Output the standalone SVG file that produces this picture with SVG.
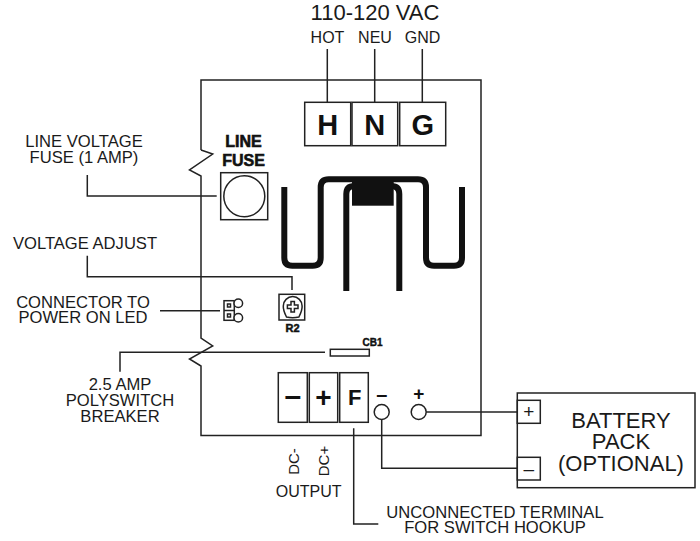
<svg xmlns="http://www.w3.org/2000/svg" width="700" height="541" viewBox="0 0 700 541">
<style>
text{font-family:"Liberation Sans",Arial,sans-serif;fill:#1a1a1a;text-anchor:middle}
.l{font-size:16.6px}
.h{font-size:16px}
.bt{font-size:22px}
.b{font-weight:bold;fill:#111}
.s{fill:#fff;stroke:#222;stroke-width:1.5}
.n{fill:none;stroke:#222;stroke-width:1.5}
.w{fill:none;stroke:#222;stroke-width:1.5}
.t{fill:none;stroke:#111;stroke-width:6}
</style>
<rect width="700" height="541" fill="#fff"/>
<g id="board"><path class="n" d="M201 150V80H481V435.5H201V366L189.5 359L212.7 346L201 338V176L189.5 170L212.7 154L201 150"/></g>
<g id="connectors">
<path class="w" d="M327.3 49V102M374.7 49V102M422.3 49V102"/>
<path class="w" d="M87.3 175V196H216.7"/>
<path class="w" d="M87.3 255.7V276.7H292V290"/>
<path class="w" d="M160 310.7H220"/>
<path class="w" d="M120 371.7V352.3H325"/>
<path class="w" d="M426.2 412H517.3"/>
<path class="w" d="M381.7 419.5V468.3H517.3"/>
<path class="w" d="M353.7 428.3V524H378.3"/>
</g>
<g id="ac-title"><text x="375" y="20" font-size="22px">110-120 VAC</text>
<text class="h" x="327.5" y="43">HOT</text><text class="h" x="375" y="43">NEU</text><text class="h" x="422.5" y="43">GND</text></g>
<g id="terminal-h"><rect class="s" x="304.7" y="102.3" width="46" height="43.4"/><text class="b" x="327.7" y="134.5" font-size="29px">H</text></g>
<g id="terminal-n"><rect class="s" x="352" y="102.3" width="45.7" height="43.4"/><text class="b" x="374.8" y="134.5" font-size="29px">N</text></g>
<g id="terminal-g"><rect class="s" x="399.7" y="102.3" width="46" height="43.4"/><text class="b" x="422.7" y="134.5" font-size="29px">G</text></g>
<g id="line-fuse">
<text class="b" x="243.5" y="147" font-size="16px" stroke="#111" stroke-width=".6">LINE</text>
<text class="b" x="243.5" y="166" font-size="16px" stroke="#111" stroke-width=".6">FUSE</text>
<rect class="s" x="220.7" y="172.7" width="47" height="47"/><circle class="n" cx="244.3" cy="196.2" r="20.5"/></g>
<g id="transformer">
<path class="t" d="M284.3 187V257.7Q284.3 265.7 292.3 265.7H312.7Q320.7 265.7 320.7 257.7V187.3Q320.7 179.3 328.7 179.3H418Q426 179.3 426 187.3V257.7Q426 265.7 434 265.7H454Q462 265.7 462 257.7V187"/>
<path class="t" d="M346.3 291V194Q346.3 186 354.3 186H391.3Q399.3 186 399.3 194V291"/>
<rect x="352" y="182" width="41.7" height="23.7" fill="#111"/></g>
<g id="trimmer-r2"><rect class="s" x="279" y="294.3" width="25.7" height="25.7"/>
<path class="n" d="M286.5 317Q283 310 283.3 306A9.4 9.4 0 0 1 302.1 306Q302.4 310 298.9 317Q292.7 318.6 286.5 317Z"/>
<path class="n" stroke-width="1.2" d="M291 301.5H294.4V305H298V308.4H294.4V312H291V308.4H287.4V305H291Z"/>
<text class="b" x="292.5" y="331.7" font-size="11px" stroke="#111" stroke-width=".5">R2</text></g>
<g id="led-connector"><rect class="s" x="224" y="300.7" width="10.3" height="19.6"/><path class="n" d="M224 310.5H234.3"/>
<rect class="n" x="227.5" y="304" width="3" height="3" stroke-width="1.2"/><rect class="n" x="227.5" y="314" width="3" height="3" stroke-width="1.2"/>
<circle class="s" cx="238.3" cy="303.3" r="4.3"/><circle class="s" cx="238.3" cy="317.7" r="4.3"/></g>
<g id="breaker-cb1"><rect class="s" x="330.3" y="349.3" width="39" height="6.7"/><text class="b" x="372.5" y="345.7" font-size="10px" stroke="#111" stroke-width=".4">CB1</text></g>
<g id="terminal-minus"><rect class="s" x="278.3" y="372.7" width="29" height="49.6"/><text class="b" x="292.8" y="406" font-size="30px">–</text></g>
<g id="terminal-plus"><rect class="s" x="309.3" y="372.7" width="28.4" height="49.6"/><text class="b" x="323.5" y="407" font-size="28px">+</text></g>
<g id="terminal-f"><rect class="s" x="339.7" y="372.7" width="28.6" height="49.6"/><text class="b" x="354.8" y="405" font-size="22px">F</text></g>
<g id="battery-minus-post"><circle class="s" cx="381.7" cy="412" r="7.5"/><text class="b" x="381.7" y="401" font-size="20px">–</text></g>
<g id="battery-plus-post"><circle class="s" cx="418.7" cy="412" r="7.5"/><text class="b" x="418.7" y="400" font-size="19px">+</text></g>
<g id="battery-pack"><rect class="s" x="517.3" y="393" width="177.7" height="94.7"/>
<rect class="s" x="517.3" y="400.3" width="23" height="23"/><text x="528.8" y="417.5" font-size="19px">+</text>
<rect class="s" x="517.3" y="457.3" width="23" height="22.7"/><text x="528.8" y="474.5" font-size="19px">–</text>
<text class="bt" x="621" y="427.7">BATTERY</text><text class="bt" x="621" y="448.5">PACK</text><text class="bt" x="621" y="471">(OPTIONAL)</text></g>
<g id="labels">
<text class="l" x="84" y="147.3">LINE VOLTAGE</text><text class="l" x="84" y="163.3">FUSE (1 AMP)</text>
<text class="l" x="85" y="249">VOLTAGE ADJUST</text>
<text class="l" x="83" y="307.7">CONNECTOR TO</text><text class="l" x="83" y="323.3">POWER ON LED</text>
<text class="l" x="120" y="390">2.5 AMP</text><text class="l" x="120" y="406">POLYSWITCH</text><text class="l" x="120" y="421.7">BREAKER</text>
<text font-size="15px" transform="translate(298.7 461.5) rotate(-90)">DC-</text>
<text font-size="15px" transform="translate(329 461) rotate(-90)">DC+</text>
<text class="h" x="308.7" y="496.7">OUTPUT</text>
<text class="l" x="495" y="517.7">UNCONNECTED TERMINAL</text><text class="l" x="495" y="533.3">FOR SWITCH HOOKUP</text>
</g>
</svg>
